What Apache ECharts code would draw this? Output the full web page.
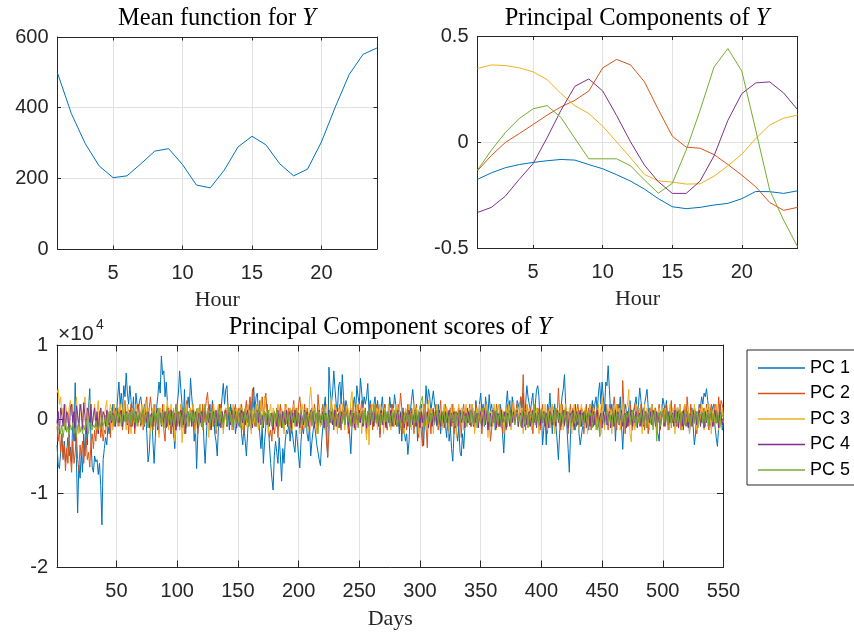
<!DOCTYPE html>
<html><head><meta charset="utf-8">
<script src="https://cdn.jsdelivr.net/npm/echarts@6/dist/echarts.min.js"></script>
<style>html,body{margin:0;padding:0;background:#fff}#c{width:854px;height:632px}</style>
</head><body><div id="c"></div>
<script>
// ---- data ----
const hours = [1,2,3,4,5,6,7,8,9,10,11,12,13,14,15,16,17,18,19,20,21,22,23,24];
const meanY = [498,383,298,235,202,207,241,277,284,239,181,173,223,289,319,295,241,207,226,303,402,494,551,569];
const load1 = [-0.174,-0.143,-0.119,-0.104,-0.094,-0.086,-0.080,-0.083,-0.104,-0.124,-0.152,-0.182,-0.220,-0.265,-0.303,-0.312,-0.306,-0.295,-0.287,-0.265,-0.231,-0.232,-0.240,-0.228];
const load2 = [-0.133,-0.061,0.0,0.042,0.085,0.129,0.168,0.199,0.243,0.352,0.392,0.366,0.286,0.155,0.030,-0.022,-0.027,-0.057,-0.104,-0.154,-0.209,-0.283,-0.320,-0.306];
const load3 = [0.349,0.366,0.363,0.352,0.333,0.297,0.231,0.173,0.137,0.077,0.003,-0.072,-0.151,-0.181,-0.187,-0.196,-0.195,-0.159,-0.110,-0.055,0.019,0.082,0.115,0.129];
const load4 = [-0.330,-0.306,-0.253,-0.174,-0.099,0.022,0.152,0.265,0.300,0.243,0.127,0.003,-0.107,-0.185,-0.240,-0.240,-0.182,-0.063,0.105,0.231,0.281,0.286,0.234,0.155];
const load5 = [-0.130,-0.036,0.047,0.113,0.159,0.174,0.118,0.019,-0.077,-0.077,-0.077,-0.110,-0.177,-0.239,-0.193,-0.036,0.152,0.356,0.443,0.336,0.058,-0.224,-0.366,-0.491];
// scores, in units of 1e4
const score1 = [
-.35,-.62,-.67,-.45,-.2,-.52,-.3,-.58,-.44,-.25,
-.5,-.38,-.6,.05,-.3,.49,-.55,-1.27,-.62,-.8,
-.45,-.72,-.2,-.5,-.1,-.35,.15,.41,-.3,-.65,
-.72,-.5,-.58,-.55,-.75,-.6,-.9,-1.43,-.55,-.4,
-.25,-.35,-.1,-.2,.1,-.05,.2,-.1,.15,.05,
.3,.5,.2,.35,.1,.45,.3,.62,.35,.2,
.45,.25,.05,.3,-.15,.35,.2,.1,.25,.3,
.15,.05,.2,.1,-.2,-.58,-.45,-.1,.05,-.3,
-.6,-.25,.15,.3,.5,.35,.85,.6,.65,.3,
.5,.2,-.05,.1,-.2,.05,-.15,-.4,-.1,.2,
.35,.65,.4,.2,-.1,.4,-.2,.1,.3,.15,
.55,.3,.1,-.3,-.1,-.67,-.2,.1,.2,-.1,
.15,-.3,-.6,-.25,.1,.05,.2,-.15,.25,.1,
-.2,-.3,-.5,-.1,.2,.1,.3,.48,.2,.4,
.45,.1,-.15,.2,.05,-.1,.15,-.2,-.05,.1,
-.1,.15,-.2,-.35,-.1,-.3,-.5,-.2,.1,.2,
-.15,.25,.43,.1,.3,.35,.05,-.2,-.4,-.1,
-.6,-.3,-.1,.2,-.05,-.35,-.6,-.8,-.96,-.5,
-.3,-.45,-.6,-.25,-.5,-.84,-.4,-.6,-.3,-.15,
-.2,-.05,-.3,-.1,-.2,-.35,-.45,-.15,-.3,-.5,
-.66,-.3,-.1,-.2,0,.1,-.2,-.3,-.1,-.5,
-.3,-.15,-.05,-.2,-.35,-.45,-.55,-.63,-.3,-.1,
.15,.3,-.25,-.52,.7,.4,.2,.35,.65,.4,
.2,.1,.45,.5,.2,.6,.3,.1,.25,.15,
.05,-.2,-.47,-.1,.2,.3,.1,.45,.3,.2,
.55,.35,.15,.3,.2,.3,.48,.1,.25,.15,
-.1,.2,.3,0,.25,.1,-.2,.15,.3,.05,
.2,-.1,.1,-.05,.3,.15,.2,.1,.33,.2,
-.1,.05,-.2,.1,-.3,.15,-.15,-.3,-.2,-.48,
-.3,.1,.25,.4,.2,-.1,.15,-.3,.1,.05,
.2,-.1,-.36,.1,.45,.2,.4,.3,.1,.25,
.38,.2,.1,-.1,.2,0,-.2,.1,-.05,.15,
-.1,-.25,.1,-.3,-.1,-.4,-.57,-.2,.1,-.15,
-.3,-.1,-.45,-.5,-.2,-.4,-.1,.05,.15,-.05,
.1,-.1,.2,.05,-.1,.25,.1,-.05,.2,.35,
.1,.2,-.1,.3,.15,.05,.33,.1,.2,0,
.15,-.15,.1,.05,-.1,.2,.05,-.2,-.46,-.1,
.2,.38,.1,.25,-.05,.3,.15,.1,.05,.25,
.2,.1,.3,.15,.35,-.1,.2,.45,.3,.2,
.1,.25,.35,-.05,.2,.4,.45,.3,-.1,.1,
-.35,-.37,.1,-.35,.2,.1,.35,.05,-.2,.1,
.2,-.1,-.3,-.55,-.2,.1,.3,.4,.6,.2,
-.1,-.4,-.72,-.2,.1,.05,-.15,.2,-.1,.1,
-.2,-.35,-.34,-.1,.1,-.05,.15,.05,-.15,.2,
.1,.25,-.1,.2,.3,.1,.35,.49,.2,.5,
.3,.1,.5,.45,.72,.4,.1,.2,-.1,.15,
-.3,.05,.2,.1,.3,-.1,-.41,-.05,.2,.1,
-.1,.15,.25,.05,-.15,.1,.2,.3,.05,.2,
.42,.25,.1,-.1,.2,.3,.4,.15,-.05,.1,
.2,-.1,.05,.15,-.15,-.2,-.3,.1,.05,.28,
.2,.1,.25,-.1,.05,.15,.2,-.05,.1,.05,
-.1,.15,.05,.2,-.05,.1,-.15,.2,.05,-.1,
.1,-.2,.05,.15,-.1,-.35,-.2,.1,.05,.2,
.15,.3,.2,.35,.3,.41,.25,.1,-.1,.05,
.15,.2,-.1,-.25,-.37,-.1,.2,.1,-.15,-.05];
const score2 = [
-.1,-.3,-.15,-.45,-.2,-.55,-.35,-.7,-.4,-.6,
-.25,-.5,-.72,-.3,-.6,-.45,-.2,-.55,-.7,-.35,
-.5,-.3,-.6,-.4,-.25,-.55,-.45,-.65,-.3,-.2,
-.4,-.15,-.3,-.05,-.2,.1,-.25,-.1,-.3,-.15,
-.2,.05,-.1,.1,-.25,.15,-.05,.2,-.1,.05,
.15,-.1,.2,0,-.15,.1,.25,-.05,.1,-.2,
.05,.2,-.1,.15,-.2,.1,-.05,.2,.05,-.1,
.1,-.15,.05,.2,.3,-.1,.15,.3,.1,-.15,
.2,-.1,.05,.15,-.2,.1,-.05,.2,-.15,-.3,
.1,-.1,.15,.05,-.2,.1,-.25,.05,.2,-.1,
.1,-.15,.2,-.05,.15,-.2,.1,.25,-.1,.05,
.15,-.1,.2,-.15,.05,.1,-.2,.15,.05,-.1,
.2,-.05,.1,.25,.36,.1,-.15,.05,.2,-.1,
.1,-.2,.05,.15,-.1,.2,.05,-.15,.1,.15,
-.1,.2,.05,-.05,.15,-.15,.1,.2,-.05,.1,
.15,-.1,.2,.05,-.2,.1,.25,-.05,.15,.3,
.1,.41,.15,-.1,.2,.05,-.15,.25,.1,.3,
.05,.2,.35,.1,-.1,-.25,-.15,-.3,.05,-.2,
-.1,.15,-.25,.05,.2,-.1,.1,-.15,.2,.05,
-.1,.15,.05,-.2,.1,.25,-.05,.15,-.1,.2,
.3,.1,-.15,.05,.2,-.1,.15,.05,-.2,.1,
.15,-.05,.2,.1,-.15,.33,.1,-.1,.05,.2,
-.1,.15,-.3,-.5,-.2,.1,.25,.05,-.15,.2,
.1,-.1,.05,.2,-.15,.1,.25,-.05,.15,.1,
-.2,.05,.15,-.1,.2,.05,-.15,.1,.2,-.05,
.1,.25,-.1,.05,.15,-.2,.1,-.05,.2,.1,
-.15,.1,.05,.2,-.1,.15,-.25,.05,.1,-.1,
.2,.05,-.15,.1,.15,-.05,.2,-.1,.05,.15,
-.1,.2,.1,.35,.15,-.2,.05,.1,-.15,.2,
.05,-.1,.15,.1,-.2,.05,.2,-.1,-.25,.1,
-.15,-.37,.05,.2,-.1,-.39,.15,.05,-.2,.1,
.15,-.05,.2,.1,-.15,.05,.25,-.1,.1,-.05,
.2,.1,-.15,.05,.15,-.1,.2,-.2,.05,.1,
-.1,.15,.05,-.25,.1,.2,-.05,.15,-.1,.05,
.2,-.1,.1,.05,-.15,.2,.1,-.1,.15,.05,
-.2,.1,.15,-.05,.2,-.1,.05,-.3,-.15,.1,
.15,-.05,.2,.1,-.1,.05,.15,-.2,.1,.05,
-.15,.2,.05,.1,-.1,.15,.25,-.05,.1,.2,
-.1,.15,.3,.1,.6,.05,-.15,.2,.1,-.1,
.15,.05,-.2,.1,.2,-.05,.15,.1,-.15,.05,
.2,-.1,.1,.05,-.2,.15,.1,-.05,.2,.1,
-.1,.15,.05,.42,.1,-.15,.2,.05,-.1,.15,
.1,-.2,.05,.2,-.1,.15,.05,-.15,.1,.2,
.05,-.1,.15,.1,-.2,.05,.2,-.1,.15,.05,
-.15,.1,.2,.05,-.1,.15,.1,-.2,.05,.25,
.1,-.1,.15,.05,-.15,.2,.1,-.05,.15,.3,
.1,-.15,.2,.05,.1,-.1,.52,.15,-.2,.05,
.1,-.1,.2,.05,-.15,.1,.2,-.05,.15,.1,
-.1,.2,.05,.15,-.15,.1,.05,-.2,.15,.1,
.2,-.05,.1,.15,-.1,.05,.2,-.15,.1,.05,
.15,-.1,.2,.05,-.15,.1,.25,-.05,.1,.2,
-.1,.15,.05,.2,-.15,.1,.05,.2,-.1,.3,
.1,-.15,.2,.05,-.1,.15,.1,-.2,.05,.15,
.2,-.05,.1,.15,-.1,.2,.05,-.15,.1,.2,
.05,-.1,.2,.15,-.05,.3,.1,.25,.2,.05];
const score3 = [
.35,.4,.2,.3,.05,.15,-.1,.2,.1,-.05,
.15,.25,.05,.2,-.1,.1,.3,.05,-.2,.1,
.2,-.05,.15,.3,.1,-.15,.05,.25,.1,-.1,
.05,.2,-.15,.1,.25,-.05,.15,.1,-.2,.05,
.15,.25,-.1,.05,.2,.1,-.15,.2,.05,.1,
-.1,.15,.2,-.05,.1,.25,.05,-.15,.2,.1,
.05,-.2,.15,.1,-.05,.2,.1,-.1,.15,.05,
.2,-.1,.1,.25,-.05,.15,.1,-.2,.05,.15,
-.1,.2,.05,.1,-.25,.15,.05,-.1,.2,-.05,
.1,.25,-.15,.05,.2,-.1,.15,-.3,-.1,.1,
.05,-.15,.2,-.32,-.1,.15,.05,.2,-.1,.1,
.15,-.05,.2,.1,-.2,.05,.15,-.1,.2,.05,
-.15,.1,.2,-.05,.15,-.25,.05,.1,-.1,.2,
.05,-.15,.1,.2,-.05,.15,.1,-.2,.05,.15,
-.1,.2,.05,.1,-.15,.2,.05,-.1,.15,.1,
-.05,.2,.1,-.15,.05,.15,-.1,.2,.05,.1,
-.2,.1,.15,-.05,.2,.1,-.15,.05,.25,.1,
-.1,.31,.15,.05,-.2,.1,.2,-.05,.15,.1,
-.15,.05,.2,.1,-.1,.15,.05,-.2,.1,.2,
.05,-.1,.15,.1,-.15,.2,.05,-.1,.15,.05,
-.2,.1,.2,.05,-.1,.15,.1,-.15,.25,.43,
.2,-.05,.1,.15,-.2,.05,.2,-.1,.15,.05,
-.15,.1,.2,.05,-.1,.15,.3,-.05,.1,.2,
.05,-.2,.15,.1,-.05,.2,.1,-.15,.05,.2,
.1,-.1,.25,.37,.05,-.15,.1,.2,-.05,.15,
.1,-.2,.05,.15,-.1,-.28,.1,-.35,.05,.15,
.2,-.1,.05,.15,-.15,.1,.2,-.05,.1,-.2,
.15,.05,-.1,.2,.1,-.15,.05,.15,-.1,.2,
.1,-.05,.2,-.15,.1,.05,-.2,.15,.1,-.1,
.2,.05,-.15,.1,.2,-.05,.15,.1,-.2,.05,
.15,-.1,.2,.05,-.15,.1,.25,-.05,.15,.1,
-.2,.1,.05,.2,-.1,.15,.05,-.15,.1,.2,
-.05,.15,.1,-.2,.05,.2,-.1,.15,.05,-.25,
.1,.2,-.05,.15,.1,-.15,.05,.2,-.1,.1,
.15,-.05,.2,.1,-.2,.05,.15,-.1,.2,.05,
-.1,.15,.1,-.05,.2,-.25,.1,.05,.15,-.1,
.2,.05,-.15,.1,.2,-.05,.15,.1,-.2,.05,
.15,-.1,.2,.05,-.15,.1,.25,-.05,.1,.15,
-.1,.2,.05,.15,-.2,.1,.05,.2,-.1,.15,
.05,-.15,.1,.2,-.05,.15,.1,-.2,.05,.15,
.1,-.1,.2,.05,-.15,.1,.15,-.05,.2,.1,
-.2,.05,.15,.1,-.1,.2,.05,-.15,.1,.2,
.05,-.1,.15,.1,-.2,.05,.2,-.05,.15,.1,
-.15,.1,.2,.05,-.1,.15,.1,-.2,.05,.2,
.1,-.05,.15,.1,-.15,.05,.2,-.1,.15,.3,
.05,-.15,.1,.2,-.05,.15,.1,-.2,.05,.15,
-.1,.2,.05,.15,-.15,.1,.2,-.05,.1,.15,
.2,.4,-.2,-.31,.1,.05,-.15,.2,.1,-.05,
.15,.1,-.2,.05,.2,-.1,.15,.05,-.15,.1,
.2,-.05,.15,.1,-.2,.05,.15,-.1,.2,.05,
-.1,.15,.1,-.15,.05,.2,-.05,.15,.1,-.2,
.05,.15,-.1,.2,.05,-.15,.1,.2,-.05,.1,
.15,-.2,.05,.1,-.1,.2,.05,-.15,.1,.15,
-.05,.2,.1,-.15,.05,.15,-.1,.2,.05,-.2,
.1,.15,-.05,.2,.1,-.15,.05,-.1,.15,-.05];
const score4 = [
-.05,.1,-.2,.15,.05,-.1,.2,-.15,.1,.05,
-.25,.15,.2,-.05,.1,-.3,.18,.05,-.1,.2,
.1,-.15,.22,.05,-.2,.15,.1,-.05,.2,-.1,
.05,.15,-.1,.1,-.2,.05,.15,-.1,.1,.05,
-.1,.12,.05,-.08,.1,-.05,.08,.02,-.1,.05,
.1,-.05,.08,.12,-.1,.05,-.02,.1,-.08,.05,
.12,-.1,.05,.08,-.12,.1,.02,-.05,.1,-.08,
.05,.12,-.1,.08,-.05,.1,-.12,.05,.08,-.1,
.1,-.05,.12,-.15,.05,.08,-.1,.12,-.05,.1,
-.12,.05,.1,-.08,.12,-.1,.05,.08,-.15,.1,
.05,-.1,.12,.02,-.08,.1,-.12,.05,.1,-.05,
.08,-.1,.12,-.05,.1,.02,-.12,.08,-.05,.1,
-.1,.05,.12,-.08,.1,-.05,.08,-.12,.05,.1,
-.05,.12,-.1,.08,.02,-.12,.1,-.05,.08,.12,
-.1,.05,.1,-.08,.12,-.05,.02,.1,-.12,.05,
.08,-.1,.12,-.05,.1,-.08,.05,.12,-.1,.02,
.1,-.12,.05,.08,-.1,.12,-.05,.1,-.08,.05,
-.12,.1,.05,-.08,.12,-.1,.02,.08,-.15,.1,
.05,-.1,.12,-.05,.08,-.12,.1,.02,-.08,.12,
-.1,.05,.1,-.12,.08,-.05,.12,-.1,.05,.08,
-.12,.1,.02,-.08,.12,-.05,.1,-.1,.05,.12,
-.08,.1,-.12,.05,.08,-.1,.12,-.05,.02,.1,
-.12,.08,.05,-.1,.12,-.05,.1,-.08,.02,.12,
-.1,.05,.08,-.12,.1,-.05,.12,-.08,.05,.1,
-.1,.02,.12,-.05,.08,-.12,.1,.05,-.08,.12,
-.05,.1,-.1,.08,.02,-.12,.1,.05,-.08,.12,
.05,-.1,.12,-.05,.08,-.1,.02,.12,-.08,.05,
.1,-.12,.05,.08,-.05,.12,-.1,.02,.1,-.08,
.05,.12,-.1,.08,-.05,.1,-.12,.02,.08,-.1,
.12,-.05,.1,-.08,.05,.12,-.1,.02,.08,-.12,
.1,-.05,.12,-.08,.02,.1,-.12,.05,.08,-.1,
.12,-.05,.1,-.08,.02,.12,-.1,.05,.08,-.12,
.1,-.05,.02,.12,-.1,.08,-.05,.1,-.12,.05,
.08,-.1,.12,-.05,.02,.1,-.12,.08,-.05,.1,
-.08,.12,.05,-.1,.1,-.05,.08,-.12,.02,.1,
-.1,.05,.12,-.08,.1,-.15,.02,.08,-.1,.12,
-.05,.1,-.12,.08,.05,-.1,.12,-.05,.02,.1,
-.12,.08,.05,-.1,.12,-.05,.1,-.08,.02,.12,
-.1,.05,.08,-.12,.1,-.05,.12,-.08,.05,.1,
-.1,.02,.12,-.05,.08,-.12,.1,.05,-.08,.12,
-.05,.1,-.1,.08,.02,-.12,.1,.05,-.08,.12,
.05,-.1,.12,-.05,.08,-.1,.02,.12,-.08,.05,
.1,-.12,.05,.08,-.05,.12,-.1,.02,.1,-.08,
.05,.12,-.1,.08,-.05,.1,-.12,.02,.08,-.1,
.12,-.05,.1,-.08,.05,.12,-.1,.02,.08,-.12,
.1,-.05,.2,-.08,.02,.1,-.12,.05,.08,-.1,
.12,-.05,.1,-.08,.02,.12,-.1,.05,.08,-.12,
.1,-.05,.02,.12,-.1,.08,-.05,.1,-.12,.05,
.08,-.1,.12,-.05,.02,.1,-.12,.08,-.05,.1,
-.08,.12,.05,-.1,.1,-.05,.08,-.12,.02,.1,
-.1,.05,.12,-.08,.1,-.05,.02,.08,-.1,.12,
-.05,.1,-.12,.08,.05,-.1,.12,-.05,.02,.1,
-.12,.08,.05,-.1,.12,-.05,.1,-.08,.02,.12,
-.1,.05,.08,-.12,.1,-.05,.12,-.08,.05,.1,
-.1,.02,.12,-.05,.08,-.12,.1,.05,-.08,.02];
const score5 = [
-.05,-.15,-.1,-.2,-.08,-.25,-.12,-.05,-.18,-.1,
-.22,-.08,-.15,-.05,-.2,-.12,-.25,-.1,-.05,-.18,
-.1,-.2,-.08,-.15,-.02,-.12,-.2,-.05,-.1,-.15,
-.08,-.12,-.02,-.1,-.15,-.05,-.1,.02,-.08,-.05,
.05,-.1,.08,-.05,.1,-.02,.06,-.08,.05,.1,
-.05,.08,.02,-.1,.06,.1,-.04,.08,-.06,.05,
.1,-.08,.04,.12,-.05,.08,-.1,.02,.1,-.06,
.05,.12,-.08,.04,.1,-.12,.06,.02,-.1,.08,
.12,-.05,.08,-.1,.15,.02,-.08,.1,.05,-.12,
.08,.15,-.05,.1,-.1,.04,.12,-.08,.06,.18,
-.05,.1,.04,-.12,.08,.15,-.06,.02,.1,-.1,
.06,.12,-.04,.08,-.1,.14,.02,-.08,.1,.05,
-.12,.08,.2,-.05,.1,.02,-.1,.06,.12,-.04,
.08,-.1,.04,.12,-.06,.1,.02,-.12,.08,.05,
-.08,.1,.16,-.04,.06,-.1,.12,.02,-.06,.1,
.04,-.12,.08,.1,-.05,.14,-.02,.06,-.1,.08,
.12,-.06,.04,.1,-.1,.06,.15,-.04,.08,-.12,
.02,.1,-.08,.06,.12,-.05,.08,-.1,.04,.1,
-.06,.12,.02,-.1,.08,.05,-.12,.1,.04,-.06,
.1,-.08,.06,.12,-.04,.08,-.1,.02,.1,-.05,
.06,.12,-.08,.04,.1,-.12,.06,.08,-.04,.1,
-.1,.05,.12,-.06,.08,-.2,.1,.02,-.08,.06,
.12,-.05,.08,-.1,.04,.1,-.06,.14,.02,-.1,
.08,.05,-.12,.1,.04,-.06,.12,-.08,.06,.1,
-.04,.08,-.1,.12,.02,-.06,.1,.05,-.12,.08,
.04,.1,-.06,.12,-.08,.02,.1,-.1,.06,.14,
-.04,.08,.2,-.06,.1,.02,-.12,.08,.05,-.08,
.12,-.04,.06,.1,-.1,.04,.08,-.06,.12,.02,
-.08,.1,.05,-.12,.08,.04,-.06,.1,.12,-.04,
.06,-.1,.08,.02,-.08,.12,.04,-.06,.1,.18,
.25,.31,.05,-.1,.08,.02,-.06,.12,-.04,.08,
.1,-.08,.04,.12,-.06,.08,.02,-.1,.1,.05,
-.12,.08,.04,-.06,.1,.12,-.04,.06,-.1,.08,
.02,.1,-.08,.06,.12,-.05,.04,-.1,.08,.1,
-.06,.12,.02,-.08,.1,.05,-.12,.08,.04,-.06,
.1,.15,-.08,.06,.12,-.04,.08,-.1,.02,.1,
-.05,.06,.12,-.08,.04,.1,-.12,.06,.08,-.04,
.1,-.1,.05,.12,-.06,.08,.02,-.08,.06,.1,
-.04,.08,-.1,.12,.02,-.06,.1,.05,-.12,.08,
.04,.1,-.06,.2,-.08,.02,.1,-.1,.06,.14,
-.04,.08,.1,-.06,.1,.02,-.12,.08,.05,-.08,
.12,-.04,.06,.1,-.1,.04,.08,-.06,.12,.02,
-.08,.1,.05,-.12,.08,.04,-.06,.1,.12,-.04,
.06,-.1,.08,.02,-.08,.12,.04,-.06,.1,.05,
.08,-.12,.04,.1,-.06,-.15,.02,-.24,-.2,.08,
.1,-.08,.04,.12,-.06,.08,.02,-.1,.1,.05,
-.12,.08,.04,-.06,.1,.12,-.04,.06,-.1,.08,
.02,.1,-.08,.06,.12,-.05,.04,-.1,.08,.1,
-.06,.12,.02,-.08,.1,.05,-.12,.08,.04,-.06,
.1,-.15,.06,.12,-.3,.04,.08,-.1,.02,.1,
-.05,.06,.12,-.08,.04,.1,-.12,.06,.08,-.04,
.1,-.1,.05,.12,-.06,.08,.02,-.08,.06,.1,
-.04,.08,-.1,.12,.02,-.06,.1,.05,-.12,.08,
.04,.1,-.06,.12,-.08,.02,.1,-.1,.06,.14,
-.04,.08,.1,-.06,.1,.02,-.12,.08,.05,.02];
const pcNames = ['PC 1','PC 2','PC 3','PC 4','PC 5'];
const hourTicks = [5,10,15,20];
const dayTicks = [50,100,150,200,250,300,350,400,450,500,550];

// ---- chart ----
const COLORS = ['#0072BD','#D95319','#EDB120','#7E2F8E','#77AC30'];
const AX = '#262626', GRIDC = '#e1e1e1';
const SANS = 'Liberation Sans', SERIF = 'Liberation Serif';
const FS = 20;
const days = score1.map((_, i) => i + 1);
const loads = [load1, load2, load3, load4, load5];
const scores = [score1, score2, score3, score4, score5];

function mkX(grid, min, max, ticks, tickLen, pos, labels, name, nameGap) {
  return {
    type: 'value', gridIndex: grid, position: pos, min: min, max: max,
    axisLine: {show: true, onZero: false, lineStyle: {color: AX, width: 1}},
    axisTick: {show: true, inside: true, length: tickLen, customValues: ticks, lineStyle: {color: AX}},
    axisLabel: {show: labels, customValues: ticks, color: AX, fontFamily: SANS, fontSize: FS, margin: 14},
    splitLine: {show: labels, lineStyle: {color: GRIDC, width: 1}},
    name: name || '', nameLocation: 'middle', nameGap: nameGap || 0,
    nameTextStyle: {fontFamily: SERIF, fontSize: 22, color: AX}
  };
}
function mkY(grid, min, max, interval, tickLen, pos, labels) {
  return {
    type: 'value', gridIndex: grid, position: pos, min: min, max: max, interval: interval,
    axisLine: {show: true, onZero: false, lineStyle: {color: AX, width: 1}},
    axisTick: {show: true, inside: true, length: tickLen, lineStyle: {color: AX}},
    axisLabel: {show: labels, color: AX, fontFamily: SANS, fontSize: FS, margin: 9},
    splitLine: {show: labels, lineStyle: {color: GRIDC, width: 1}}
  };
}
function ttl(txt, x, y) {
  return {
    text: '{a|' + txt + '}{b|Y}', left: x, top: y, textAlign: 'center', padding: 0,
    textStyle: {fontWeight: 'normal', rich: {
      a: {fontFamily: SERIF, fontSize: 24.5, fontWeight: 'normal', color: '#000', lineHeight: 26},
      b: {fontFamily: SERIF, fontSize: 24.5, fontWeight: 'normal', fontStyle: 'italic', color: '#000', lineHeight: 26}
    }}
  };
}

const series = [];
series.push({type: 'line', name: 'mean', xAxisIndex: 0, yAxisIndex: 0, symbol: 'none',
  lineStyle: {width: 1, color: COLORS[0]}, itemStyle: {color: COLORS[0]},
  data: hours.map((h, i) => [h, meanY[i]])});
loads.forEach((L, k) => series.push({type: 'line', name: 'L' + (k + 1), xAxisIndex: 2, yAxisIndex: 2,
  symbol: 'none', lineStyle: {width: 1, color: COLORS[k]}, itemStyle: {color: COLORS[k]},
  data: hours.map((h, i) => [h, L[i]])}));
scores.forEach((S, k) => series.push({type: 'line', name: pcNames[k], xAxisIndex: 4, yAxisIndex: 4,
  symbol: 'none', lineStyle: {width: 1, color: COLORS[k]}, itemStyle: {color: COLORS[k]},
  data: days.map((d, i) => [d, S[i]])}));

const chart = echarts.init(document.getElementById('c'), null, {renderer: 'canvas'});
chart.setOption({
  animation: false,
  backgroundColor: '#fff',
  title: [ttl('Mean function for ', 217, 6), ttl('Principal Components of ', 637, 6), ttl('Principal Component scores of ', 390, 315)],
  grid: [
    {left: 57.5, top: 37, width: 319.5, height: 212, containLabel: false},
    {left: 477.5, top: 36.5, width: 320, height: 212, containLabel: false},
    {left: 57, top: 345, width: 666.5, height: 222, containLabel: false}
  ],
  xAxis: [
    mkX(0, 1, 24, hourTicks, 3.5, 'bottom', true, 'Hour', 40),
    mkX(0, 1, 24, hourTicks, 3.5, 'top', false),
    mkX(1, 1, 24, hourTicks, 3.5, 'bottom', true, 'Hour', 40),
    mkX(1, 1, 24, hourTicks, 3.5, 'top', false),
    mkX(2, 1, 550, dayTicks, 6.5, 'bottom', true, 'Days', 41),
    mkX(2, 1, 550, dayTicks, 6.5, 'top', false)
  ],
  yAxis: [
    mkY(0, 0, 600, 200, 3.5, 'left', true),
    mkY(0, 0, 600, 200, 3.5, 'right', false),
    mkY(1, -0.5, 0.5, 0.5, 3.5, 'left', true),
    mkY(1, -0.5, 0.5, 0.5, 3.5, 'right', false),
    mkY(2, -2, 1, 1, 6.5, 'left', true),
    mkY(2, -2, 1, 1, 6.5, 'right', false)
  ],
  legend: {
    orient: 'vertical', left: 747, top: 350, itemWidth: 47, itemHeight: 1.5, itemGap: 5.5,
    icon: 'rect', padding: [8, 10, 5, 11], borderColor: AX, borderWidth: 1, backgroundColor: '#fff',
    textStyle: {fontFamily: SANS, fontSize: 18, color: '#000', lineHeight: 20},
    data: pcNames
  },
  graphic: [
    {type: 'text', left: 58, top: 324, style: {text: '\u00d710', font: '21px "Liberation Sans"', fill: AX}},
    {type: 'text', left: 96, top: 318, style: {text: '4', font: '14px "Liberation Sans"', fill: AX}}
  ],
  series: series
});
</script></body></html>
